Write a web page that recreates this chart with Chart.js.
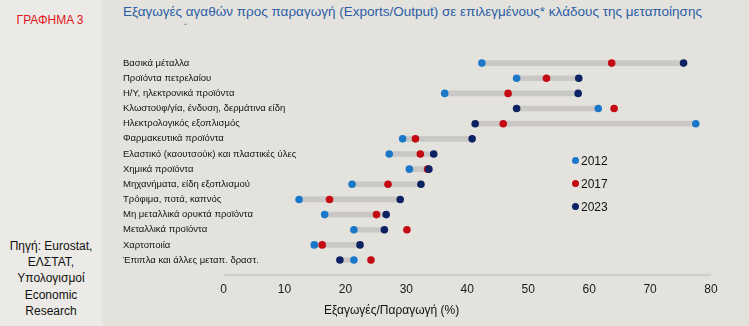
<!DOCTYPE html>
<html>
<head>
<meta charset="utf-8">
<script src="https://cdn.jsdelivr.net/npm/chart.js@4"></script>
<style>
  html, body { margin: 0; padding: 0; }
  body { width: 749px; height: 326px; background: #e4e2dd; position: relative; overflow: hidden;
         font-family: "Liberation Sans", Arial, sans-serif; }
  #side { position: absolute; left: 0; top: 0; width: 102px; height: 326px; background: #eceae6; }
  #tag { position: absolute; left: 0; width: 100px; top: 13px; text-align: center; color: #e0161b;
         font: 12px "Liberation Sans Narrow", "Liberation Sans", Arial, sans-serif; }
  #src { position: absolute; left: 0; width: 102px; top: 238px; text-align: center; color: #111;
         font-size: 12px; line-height: 16.2px; }
  #title { position: absolute; left: 123px; top: 4px; color: #2a5ea6; white-space: nowrap;
           font: 13.5px "Liberation Sans Narrow", "Liberation Sans", Arial, sans-serif; }
  #mark { position: absolute; left: 184px; top: 22px; color: #8a8a8a; font-size: 10px; }
  #xtitle { position: absolute; left: 324px; top: 303px; color: #111; font-size: 12px; white-space: nowrap; }
  #legend { position: absolute; left: 572px; top: 153px; font-size: 12px; color: #111; }
  #legend div { height: 23px; line-height: 17px; white-space: nowrap; }
  #legend span { display: inline-block; width: 7px; height: 7px; border-radius: 50%; margin-right: 2px; vertical-align: 1px; }
  #wrap { position: absolute; left: 0; top: 0; width: 749px; height: 326px; }
</style>
</head>
<body>
<div id="side"></div>
<div id="tag">ΓΡΑΦΗΜΑ 3</div>
<div id="src">Πηγή: Eurostat,<br>ΕΛΣΤΑΤ,<br>Υπολογισμοί<br>Economic<br>Research</div>
<div id="title">Εξαγωγές αγαθών προς παραγωγή (Exports/Output) σε επιλεγμένους* κλάδους της μεταποίησης</div>
<div id="mark">˘</div>
<div id="wrap"><canvas id="chart"></canvas></div>
<div id="xtitle">Εξαγωγές/Παραγωγή (%)</div>
<div id="legend"></div>
<script>
const categories = [
  'Βασικά μέταλλα',
  'Προϊόντα πετρελαίου',
  'Η/Υ, ηλεκτρονικά προϊόντα',
  'Κλωστοϋφ/γία, ένδυση, δερμάτινα είδη',
  'Ηλεκτρολογικός εξοπλισμός',
  'Φαρμακευτικά προϊόντα',
  'Ελαστικό (καουτσούκ) και πλαστικές ύλες',
  'Χημικά προϊόντα',
  'Μηχανήματα, είδη εξοπλισμού',
  'Τρόφιμα, ποτά, καπνός',
  'Μη μεταλλικά ορυκτά προϊόντα',
  'Μεταλλικά προϊόντα',
  'Χαρτοποιία',
  'Έπιπλα και άλλες μεταπ. δραστ.'
];
const years = ['2012', '2017', '2023'];
const values2012 = [42.4, 48.1, 36.3, 61.5, 77.5, 29.4, 27.2, 30.5, 21.1, 12.4, 16.6, 21.4, 14.9, 21.4];
const values2017 = [63.7, 53.0, 46.7, 64.1, 45.9, 31.5, 32.3, 33.5, 27.0, 17.4, 25.1, 30.1, 16.2, 24.2];
const values2023 = [75.5, 58.3, 58.2, 48.1, 41.3, 40.8, 34.5, 33.7, 32.4, 29.0, 26.7, 26.4, 22.4, 19.1];
const xTicks = [0, 10, 20, 30, 40, 50, 60, 70, 80];
const colors = ['#1b78c8', '#c40a12', '#0c2262'];

const legend = document.getElementById('legend');
years.forEach(function (y, i) {
  const row = document.createElement('div');
  row.innerHTML = '<span style="background:' + colors[i] + '"></span>' + y;
  legend.appendChild(row);
});

// grey range from 2012 to 2023
const ranges = values2012.map(function (v, i) { return [v, values2023[i]]; });

const axisLine = {
  id: 'axisLine',
  beforeDatasetsDraw(chart) {
    const ctx = chart.ctx, x = chart.scales.x, y = chart.chartArea.bottom + 7.5;
    ctx.save();
    ctx.strokeStyle = '#d0cfcc';
    ctx.lineWidth = 2.5;
    ctx.beginPath();
    ctx.moveTo(x.getPixelForValue(0), y);
    ctx.lineTo(x.getPixelForValue(80), y);
    ctx.stroke();
    ctx.restore();
  }
};

function dots(label, data, color, order) {
  return {
    type: 'line',
    label: label,
    data: data,
    indexAxis: 'y',
    showLine: false,
    pointRadius: 3.8,
    pointHoverRadius: 3.8,
    pointBackgroundColor: color,
    pointBorderColor: color,
    pointBorderWidth: 0,
    order: order
  };
}

Chart.defaults.font.family = '"Liberation Sans", Arial, sans-serif';

new Chart(document.getElementById('chart'), {
  type: 'bar',
  data: {
    labels: categories,
    datasets: [
      {
        label: 'range',
        data: ranges,
        backgroundColor: '#c9c8c6',
        barThickness: 5,
        borderSkipped: false,
        order: 10
      },
      dots(years[0], values2012, colors[0], 3),
      dots(years[1], values2017, colors[1], 2),
      dots(years[2], values2023, colors[2], 1)
    ]
  },
  options: {
    indexAxis: 'y',
    responsive: true,
    maintainAspectRatio: false,
    animation: false,
    layout: { padding: { left: 123, top: 55.5, right: 38, bottom: 30 } },
    plugins: { legend: { display: false }, tooltip: { enabled: false } },
    scales: {
      x: {
        type: 'linear',
        min: 0,
        max: 80,
        afterBuildTicks: function (scale) { scale.ticks = xTicks.map(function (v) { return { value: v }; }); },
        afterFit: function (scale) { scale.height = 28.4; },
        grid: { display: false, drawTicks: false },
        border: { display: false },
        ticks: { padding: 15, color: '#1a1a1a', font: { size: 12 } }
      },
      y: {
        grid: { display: false, drawTicks: false },
        border: { display: false },
        afterFit: function (scale) { scale.width = 100.5; },
        // mirrored so the long labels can run into the plot area without clipping
        ticks: {
          mirror: true, padding: -100.5, autoSkip: false, color: '#111',
          font: { size: 9.5, family: '"Liberation Sans Narrow", "Liberation Sans", Arial, sans-serif' }
        }
      }
    }
  },
  plugins: [axisLine]
});
</script>
</body>
</html>
